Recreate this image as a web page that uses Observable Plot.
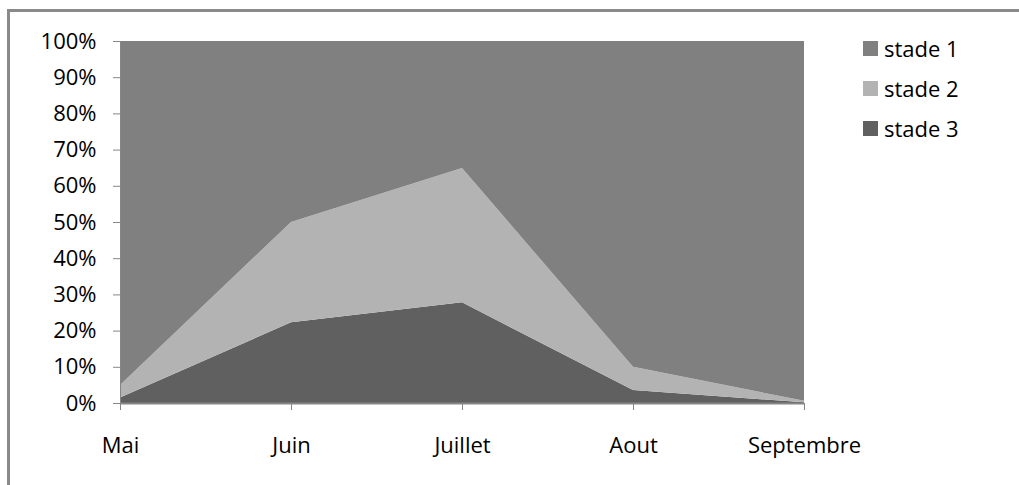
<!DOCTYPE html>
<html>
<head>
<meta charset="utf-8">
<script src="https://cdn.jsdelivr.net/npm/d3@7"></script>
<script src="https://cdn.jsdelivr.net/npm/@observablehq/plot@0.6"></script>
<style>
  html, body { margin: 0; padding: 0; background: #fff; overflow: hidden; }
  #wrap { position: relative; width: 1019px; height: 485px; overflow: hidden; font-family: "Open Sans", sans-serif; }
  #frame { position: absolute; left: 7px; top: 9px; width: 2000px; height: 1000px; border-left: 3px solid #8a8a8a; border-top: 3px solid #8a8a8a; }
  #chart { position: absolute; left: 0; top: 0; }
  .leg { position: absolute; left: 863px; font-size: 22px; line-height: 1; color: #000; white-space: nowrap; }
  .leg span.sw { display: inline-block; width: 15px; height: 15px; vertical-align: middle; margin-right: 6px; }
  .leg span.tx { vertical-align: middle; }
</style>
</head>
<body>
<div id="wrap">
  <div id="frame"></div>
  <div id="chart"></div>
</div>
<script>
const months = ["Mai", "Juin", "Juillet", "Aout", "Septembre"];
const series = ["stade 3", "stade 2", "stade 1"];
const stade3 = [1.5, 22.3, 27.8, 3.6, 0.2];
const stade2 = [3.5, 27.7, 37.1, 6.4, 0.4];
const stade1 = [95.0, 50.0, 35.1, 90.0, 99.4];
const yTicks = [0, 0.1, 0.2, 0.3, 0.4, 0.5, 0.6, 0.7, 0.8, 0.9, 1];
const legendNames = ["stade 1", "stade 2", "stade 3"];
const legendColors = ["#808080", "#b3b3b3", "#606060"];

const valuesBySeries = {"stade 3": stade3, "stade 2": stade2, "stade 1": stade1};
const data = [];
for (const s of series) {
  months.forEach((m, i) => data.push({month: m, serie: s, value: valuesBySeries[s][i]}));
}

const axisColor = "#868686";

const chart = Plot.plot({
  width: 1019,
  height: 485,
  marginLeft: 120,
  marginRight: 215,
  marginTop: 41,
  marginBottom: 82,
  style: {fontSize: "22px", fontFamily: "Open Sans, sans-serif", color: "#000", background: "transparent", overflow: "visible"},
  x: {type: "point", domain: months, padding: 0},
  y: {domain: [0, 1]},
  color: {domain: legendNames, range: legendColors},
  marks: [
    Plot.areaY(data, Plot.stackY({
      x: "month", y: "value", z: "serie", fill: "serie", offset: "normalize", order: series
    })),
    Plot.ruleY([0], {stroke: axisColor, strokeWidth: 2}),
    Plot.ruleX([months[0]], {stroke: axisColor, strokeWidth: 1}),
    Plot.axisY({ticks: yTicks, tickFormat: d => Math.round(d * 100) + "%", tickSize: 7, tickPadding: 17, stroke: axisColor, fill: "#000", label: null}),
    Plot.axisX({tickSize: 7, tickPadding: 27, stroke: axisColor, fill: "#000", label: null})
  ]
});
document.getElementById("chart").appendChild(chart);

const wrap = document.getElementById("wrap");
legendNames.forEach((n, i) => {
  const d = document.createElement("div");
  d.className = "leg";
  d.style.top = (48 + 40 * i - 14) + "px";
  d.innerHTML = `<span class="sw" style="background:${legendColors[i]}"></span><span class="tx">${n}</span>`;
  wrap.appendChild(d);
});
</script>
</body>
</html>
